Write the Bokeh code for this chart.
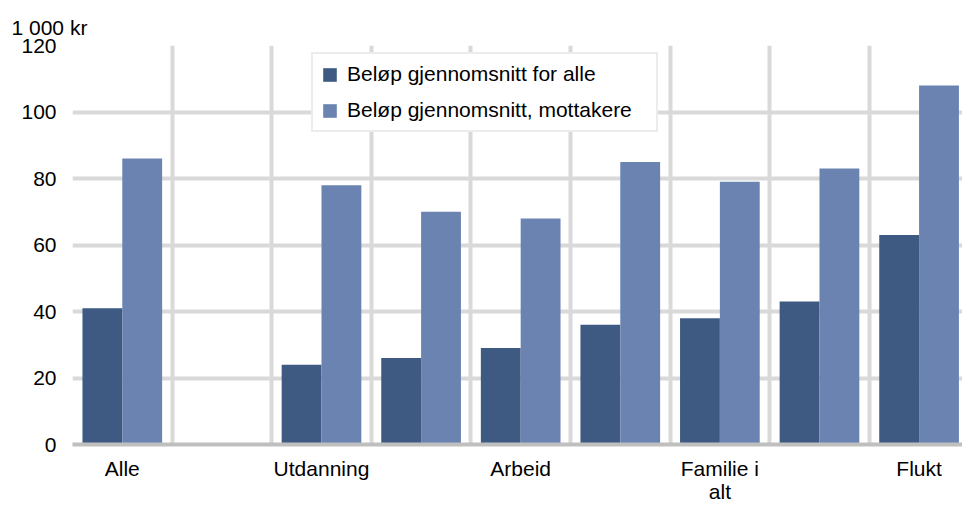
import math
from bokeh.plotting import figure
from bokeh.models import ColumnDataSource, FixedTicker, Legend, LegendItem, Range1d
from bokeh.embed import file_html
from bokeh.resources import INLINE

# ---- data ----
categories = ["Alle", "", "Utdanning", "", "Arbeid", "", "Familie i\nalt", "", "Flukt"]
avg_all = [41, math.nan, 24, 26, 29, 36, 38, 43, 63]
avg_recipients = [86, math.nan, 78, 70, 68, 85, 79, 83, 108]
y_ticks = [0, 20, 40, 60, 80, 100, 120]
unit_label = "1 000 kr"
series_names = ["Beløp gjennomsnitt for alle", "Beløp gjennomsnitt, mottakere"]
colors = ["#3e5a82", "#6a83b1"]

FONT = "Liberation Sans"
FS = "21px"

n = len(categories)
centers = [i + 0.5 for i in range(n)]
bw = 0.4

src = ColumnDataSource(dict(
    x1=[c - bw / 2 for c in centers],
    x2=[c + bw / 2 for c in centers],
    a=avg_all,
    b=avg_recipients,
))

W, H = 962, 505
p = figure(width=W, height=H, output_backend="svg", toolbar_location=None,
           x_range=Range1d(0, 8.936), y_range=Range1d(0, 120),
           min_border_left=72, min_border_right=0, min_border_top=45, min_border_bottom=60)
p.outline_line_color = None
p.background_fill_color = "white"
p.border_fill_color = "white"

# unit label as title
p.title.text = unit_label
p.title.align = "left"
p.title.offset = -61
p.title.standoff = 13
p.title.text_font = FONT
p.title.text_font_size = FS
p.title.text_font_style = "normal"
p.title.text_color = "black"

r1 = p.vbar(x="x1", top="a", width=bw, source=src, fill_color=colors[0], line_color=None)
r2 = p.vbar(x="x2", top="b", width=bw, source=src, fill_color=colors[1], line_color=None)

# grids
p.xgrid.ticker = FixedTicker(ticks=list(range(n + 1)))
p.ygrid.ticker = FixedTicker(ticks=y_ticks)
for g in (p.xgrid, p.ygrid):
    g.grid_line_color = "#d9d9d9"
    g.grid_line_width = 4

# x axis
label_ticks = [c for c, name in zip(centers, categories) if name]
p.xaxis.ticker = FixedTicker(ticks=label_ticks)
p.xaxis.major_label_overrides = {c: name for c, name in zip(centers, categories) if name}
p.xaxis.axis_line_color = "#bfbfbf"
p.xaxis.axis_line_width = 4
p.xaxis.major_tick_line_color = None
p.xaxis.minor_tick_line_color = None
p.xaxis.major_tick_out = 0
p.xaxis.major_tick_in = 0
p.xaxis.major_label_standoff = 12
p.xaxis.major_label_text_line_height = 1.0
p.xaxis.major_label_text_font = FONT
p.xaxis.major_label_text_font_size = FS
p.xaxis.major_label_text_color = "black"

# y axis
p.yaxis.ticker = FixedTicker(ticks=y_ticks)
p.yaxis.axis_line_color = None
p.yaxis.major_tick_line_color = None
p.yaxis.minor_tick_line_color = None
p.yaxis.major_tick_out = 0
p.yaxis.major_tick_in = 0
p.yaxis.major_label_standoff = 16
p.yaxis.major_label_text_font = FONT
p.yaxis.major_label_text_font_size = FS
p.yaxis.major_label_text_color = "black"

legend = Legend(items=[LegendItem(label=series_names[0], renderers=[r1]),
                       LegendItem(label=series_names[1], renderers=[r2])],
                location=(239, 312), orientation="vertical")
legend.label_text_font = FONT
legend.label_text_font_size = FS
legend.label_text_color = "black"
legend.border_line_color = "#d9d9d9"
legend.border_line_width = 2
legend.background_fill_color = "white"
legend.background_fill_alpha = 1
legend.padding = 8
legend.spacing = 12
legend.glyph_width = 17
legend.glyph_height = 17
legend.label_standoff = 9
legend.label_width = 301
legend.margin = 0
p.add_layout(legend, "center")

open("out.html", "w").write(file_html(p, INLINE))
